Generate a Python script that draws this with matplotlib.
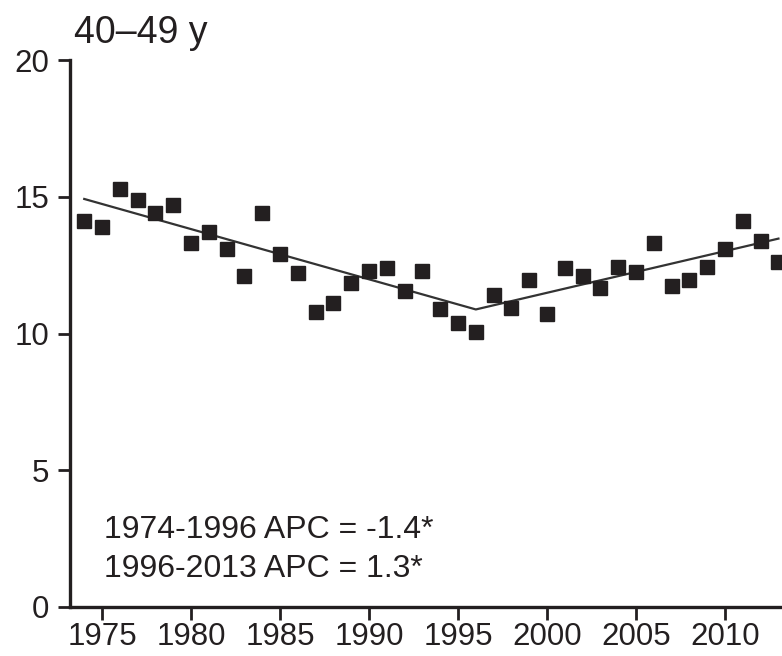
import matplotlib.pyplot as plt

plt.rcParams['font.family'] = ['Liberation Sans', 'DejaVu Sans']

# incidence per year, age group 40-49
years = list(range(1974, 2014))
rates = [14.1, 13.9, 15.3, 14.9, 14.4, 14.7, 13.3, 13.7, 13.1, 12.1,
         14.4, 12.9, 12.2, 10.8, 11.1, 11.85, 12.3, 12.4, 11.55, 12.3,
         10.9, 10.4, 10.05, 11.4, 10.95, 11.95, 10.7, 12.4, 12.1, 11.65,
         12.45, 12.25, 13.3, 11.75, 11.95, 12.45, 13.1, 14.1, 13.4, 12.6]

# joinpoint trend
fit_years = [1974, 1996, 2013]
fit_vals = [14.92, 10.88, 13.47]

apc_text = ["1974-1996 APC = -1.4*", "1996-2013 APC = 1.3*"]

fig = plt.figure(figsize=(7.82, 6.56), dpi=100)
ax = fig.add_axes([0.0895, 0.0747, 0.9105, 0.8338])

ax.plot(fit_years, fit_vals, color='#333333', lw=1.6, zorder=2)
ax.plot(years, rates, linestyle='none', marker='s', markersize=10,
        color='#231f20', zorder=3, clip_on=False)

ax.set_xlim(1973.2, 2013.2)
ax.set_ylim(0, 20)
ax.set_xticks(range(1975, 2011, 5))
ax.set_yticks([0, 5, 10, 15, 20])

for side in ['top', 'right']:
    ax.spines[side].set_visible(False)
for side in ['left', 'bottom']:
    ax.spines[side].set_linewidth(2.4)
    ax.spines[side].set_color('#231f20')

ax.tick_params(direction='out', length=9, width=2, colors='#231f20',
               labelsize=22.5, labelcolor='#231f20')
ax.tick_params(axis='y', pad=6)
ax.tick_params(axis='x', pad=1.5)

ax.text(0.006, 1.031, "40–49 y", transform=ax.transAxes, fontsize=27,
        color='#231f20', va='baseline', ha='left')

ax.text(1975.1, 2.52, apc_text[0], fontsize=23, color='#231f20',
        va='baseline')
ax.text(1975.1, 1.10, apc_text[1], fontsize=23, color='#231f20',
        va='baseline')

fig.savefig('out.png', dpi=100)
